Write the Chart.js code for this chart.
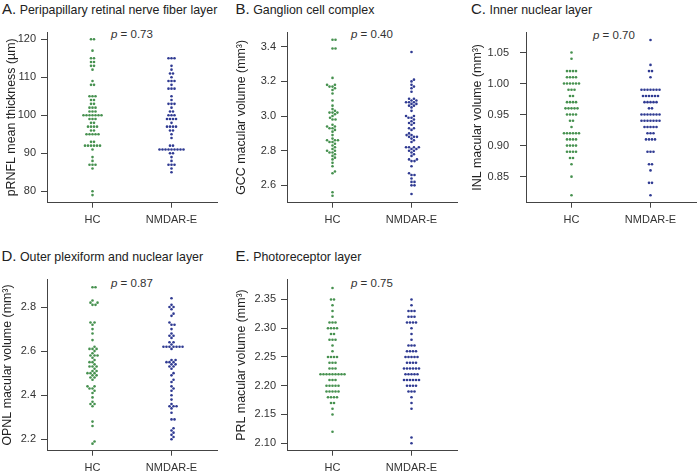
<!DOCTYPE html>
<html>
<head>
<meta charset="utf-8">
<script src="https://cdn.jsdelivr.net/npm/chart.js@4.4.1/dist/chart.umd.min.js"></script>
<style>
  body { margin: 0; background: #fff; }
  #wrap { position: relative; width: 698px; height: 472px; overflow: hidden; font-family: "Liberation Sans", Arial, sans-serif; color: #222; }
  canvas { position: absolute; }
  .ttl { position: absolute; font-size: 12.4px; line-height: 15px; white-space: nowrap; }
  .ttl span { font-size: 15px; }
  .pv { position: absolute; font-size: 11.5px; line-height: 12px; white-space: nowrap; color: #333; }
</style>
</head>
<body>
<div id="wrap"></div>
<script>
// groups on the x axis
const groupLabels = ['HC', 'NMDAR-E'];
const groupPos = [1, 2];

// A. pRNFL (µm)
const rnflHC = [120,120,117,115,115,114,114,113,113,112,109,108,108,105,105,105,104,104,103,103,102,102,102,101,101,101,
  100,100,100,100,100,100,100,99,99,99,98,98,97,97,97,97,96,96,95,95,95,95,95,93,93,92,92,92,92,92,92,91,89,88,87,87,87,86,80,79];
const rnflNM = [115,115,115,113,112,111,111,110,109,109,109,108,107,107,107,105,104,103,103,103,102,101,101,100,100,100,
  99,99,99,99,98,97,97,97,97,96,96,95,94,92,92,91,91,91,91,91,91,91,91,91,90,90,89,88,87,87,87,86,85];
const rnflTicks = ['80', '90', '100', '110', '120'];

// B. GCC (mm3)
const gccHC = [3.44,3.44,3.39,3.39,3.22,3.18,3.18,3.17,3.17,3.16,3.15,3.13,3.09,3.06,3.04,3.03,3.02,3.02,3.02,3.01,3.00,2.99,
  2.98,2.98,2.95,2.94,2.94,2.93,2.93,2.92,2.91,2.89,2.87,2.86,2.86,2.86,2.85,2.85,2.84,2.83,2.82,2.81,2.80,2.80,2.79,2.79,
  2.78,2.77,2.76,2.75,2.73,2.71,2.68,2.67,2.56,2.54];
const gccNM = [3.37,3.21,3.20,3.18,3.17,3.16,3.14,3.10,3.10,3.09,3.09,3.08,3.08,3.08,3.07,3.07,3.06,3.06,3.05,3.03,3.00,3.00,
  2.99,2.99,2.98,2.97,2.96,2.96,2.95,2.93,2.93,2.92,2.90,2.89,2.89,2.88,2.88,2.88,2.87,2.86,2.85,2.82,2.82,2.82,2.82,2.81,
  2.81,2.80,2.80,2.79,2.78,2.77,2.75,2.75,2.74,2.74,2.71,2.67,2.66,2.66,2.64,2.62,2.62,2.60,2.60,2.55];
const gccTicks = ['2.6', '2.8', '3.0', '3.2', '3.4'];

// C. INL (mm3)
const inlHC = [1.05,1.04,1.02,1.02,1.02,1.02,1.01,1.01,1.01,1.01,1.00,1.00,1.00,1.00,1.00,1.00,0.99,0.99,0.99,0.98,0.98,
  0.97,0.97,0.97,0.97,0.96,0.96,0.96,0.96,0.96,0.95,0.95,0.95,0.95,0.94,0.94,0.93,0.92,0.92,0.92,0.92,0.92,0.92,
  0.91,0.91,0.91,0.91,0.90,0.90,0.90,0.90,0.89,0.89,0.89,0.89,0.88,0.88,0.87,0.85,0.82];
const inlNM = [1.07,1.03,1.02,1.02,1.01,0.99,0.99,0.99,0.99,0.99,0.99,0.99,0.98,0.98,0.98,0.98,0.98,0.98,0.97,0.97,0.97,0.97,0.97,
  0.96,0.96,0.95,0.95,0.95,0.95,0.95,0.95,0.95,0.94,0.94,0.94,0.94,0.94,0.94,0.94,0.93,0.93,0.93,0.93,0.93,0.92,0.92,0.92,
  0.91,0.91,0.91,0.91,0.89,0.89,0.89,0.87,0.87,0.86,0.84,0.84,0.82];
const inlTicks = ['0.85', '0.90', '0.95', '1.00', '1.05'];

// D. OPNL (mm3)
const opnlHC = [2.89,2.89,2.83,2.82,2.82,2.81,2.81,2.73,2.73,2.72,2.70,2.68,2.65,2.62,2.61,2.61,2.61,2.60,2.59,2.58,2.58,2.58,
  2.57,2.56,2.55,2.55,2.54,2.53,2.53,2.53,2.52,2.51,2.51,2.50,2.50,2.50,2.49,2.49,2.48,2.48,2.47,2.44,2.44,2.43,2.43,2.42,
  2.41,2.39,2.37,2.36,2.36,2.35,2.28,2.26,2.19,2.18];
const opnlNM = [2.84,2.81,2.80,2.80,2.79,2.77,2.76,2.73,2.72,2.72,2.70,2.68,2.67,2.67,2.66,2.64,2.64,2.63,2.62,2.62,2.62,2.62,
  2.62,2.62,2.62,2.61,2.56,2.56,2.55,2.55,2.55,2.54,2.54,2.53,2.53,2.52,2.50,2.49,2.47,2.46,2.44,2.43,2.42,2.40,2.38,2.36,
  2.35,2.35,2.35,2.34,2.32,2.29,2.29,2.25,2.24,2.23,2.22,2.21,2.20];
const opnlTicks = ['2.2', '2.4', '2.6', '2.8'];

// E. PRL (mm3)
const prlHC = [2.37,2.35,2.35,2.34,2.33,2.32,2.31,2.31,2.31,2.30,2.30,2.30,2.30,2.29,2.29,2.28,2.28,2.28,2.27,2.26,
  2.25,2.25,2.25,2.25,2.24,2.24,2.24,2.23,2.23,2.23,2.22,2.22,2.22,2.22,2.22,2.22,2.22,2.22,2.22,2.21,2.21,2.21,
  2.20,2.20,2.20,2.20,2.20,2.19,2.19,2.19,2.19,2.19,2.18,2.18,2.18,2.18,2.17,2.17,2.16,2.15,2.12];
const prlNM = [2.35,2.34,2.33,2.33,2.33,2.32,2.32,2.32,2.31,2.31,2.31,2.31,2.30,2.29,2.28,2.27,2.27,2.27,2.26,2.26,2.26,2.26,
  2.25,2.25,2.25,2.25,2.25,2.24,2.24,2.24,2.24,2.23,2.23,2.23,2.23,2.23,2.23,2.22,2.22,2.22,2.22,2.22,
  2.21,2.21,2.21,2.21,2.21,2.21,2.20,2.20,2.20,2.20,2.19,2.19,2.19,2.18,2.17,2.16,2.11,2.10];
const prlTicks = ['2.10', '2.15', '2.20', '2.25', '2.30', '2.35'];

const pValues = ['0.73', '0.40', '0.70', '0.87', '0.75'];

const colors = ['#46914f', '#2f3a92'];
const axisColor = '#444';

const panels = [
  { letter: 'A', name: 'Peripapillary retinal nerve fiber layer', yTitle: 'pRNFL mean thickness (µm)',
    hc: rnflHC, nm: rnflNM, ticks: rnflTicks, min: 77.0, max: 121.9, mode: 'rows',
    left: 0, top: 0, w: 230, h: 240, axisW: 47, chartTop: 32, chartBottom: 202.7, tickPad: 5, titlePad: 4.5,
    tx: 2, ty: 1.3, px: 111, py: 28.3 },
  { letter: 'B', name: 'Ganglion cell complex', yTitle: 'GCC macular volume (mm³)',
    hc: gccHC, nm: gccNM, ticks: gccTicks, min: 2.50, max: 3.485, mode: 'swarm',
    left: 230, top: 0, w: 230, h: 240, axisW: 57, chartTop: 32, chartBottom: 202.7, tickPad: 5, titlePad: 4.5,
    tx: 235.5, ty: 1.3, px: 351, py: 28.3 },
  { letter: 'C', name: 'Inner nuclear layer', yTitle: 'INL macular volume (mm³)',
    hc: inlHC, nm: inlNM, ticks: inlTicks, min: 0.808, max: 1.083, mode: 'rows',
    left: 460, top: 0, w: 238, h: 240, axisW: 66, chartTop: 32, chartBottom: 202.7, tickPad: 11, titlePad: 10,
    tx: 471, ty: 1.3, px: 593, py: 29 },
  { letter: 'D', name: 'Outer plexiform and nuclear layer', yTitle: 'OPNL macular volume (mm³)',
    hc: opnlHC, nm: opnlNM, ticks: opnlTicks, min: 2.148, max: 2.926, mode: 'swarm',
    left: 0, top: 240, w: 230, h: 232, axisW: 47, chartTop: 279.3, chartBottom: 450.7, tickPad: 5, titlePad: 0,
    tx: 1.5, ty: 248, px: 111, py: 276.7 },
  { letter: 'E', name: 'Photoreceptor layer', yTitle: 'PRL macular volume (mm³)',
    hc: prlHC, nm: prlNM, ticks: prlTicks, min: 2.087, max: 2.385, mode: 'rows',
    left: 230, top: 240, w: 230, h: 232, axisW: 57, chartTop: 279.3, chartBottom: 450.7, tickPad: 5, titlePad: 4.5,
    tx: 235.5, ty: 248, px: 351, py: 276.7 }
];

const wrap = document.getElementById('wrap');
const dotGap = 3;   // px between neighbouring dots
const xMin = 0.424, xMax = 2.576;  // keeps the groups at the original spots

// spread the dots sideways, in pixels, then back into x values
function spread(chart, mode) {
  const xs = chart.scales.x, ys = chart.scales.y;
  chart.data.datasets.forEach((ds, i) => {
    const cx = xs.getPixelForValue(groupPos[i]);
    const pts = ds.data.map(p => ({ p, py: ys.getPixelForValue(p.y), dx: 0 }));
    if (mode === 'rows') {
      const rows = {};
      pts.forEach(o => { (rows[o.p.y.toFixed(4)] = rows[o.p.y.toFixed(4)] || []).push(o); });
      Object.values(rows).forEach(r => r.forEach((o, k) => { o.dx = (k - (r.length - 1) / 2) * dotGap; }));
    } else {
      const placed = [];
      pts.slice().sort((a, b) => b.py - a.py).forEach(o => {
        const near = placed.filter(q => Math.abs(q.py - o.py) < dotGap);
        const cands = [0];
        near.forEach(q => {
          const h = Math.sqrt(dotGap * dotGap - (q.py - o.py) ** 2);
          cands.push(q.dx + h, q.dx - h);
        });
        cands.sort((a, b) => Math.abs(a) - Math.abs(b));
        o.dx = cands.find(c => near.every(q => Math.hypot(c - q.dx, q.py - o.py) >= dotGap - 1e-6));
        placed.push(o);
      });
    }
    pts.forEach(o => { o.p.x = xs.getValueForPixel(cx + o.dx); });
  });
  chart.update('none');
}

panels.forEach(pn => {
  const t = document.createElement('div');
  t.className = 'ttl';
  t.style.left = pn.tx + 'px';
  t.style.top = pn.ty + 'px';
  t.innerHTML = '<span>' + pn.letter + '.</span> ' + pn.name;
  wrap.appendChild(t);

  const pv = document.createElement('div');
  pv.className = 'pv';
  pv.style.left = pn.px + 'px';
  pv.style.top = pn.py + 'px';
  pv.innerHTML = '<i>p</i> = ' + pValues[panels.indexOf(pn)];
  wrap.appendChild(pv);

  const cv = document.createElement('canvas');
  cv.width = pn.w; cv.height = pn.h;
  cv.style.left = pn.left + 'px';
  cv.style.top = pn.top + 'px';
  wrap.appendChild(cv);

  const xAxisH = pn.h - (pn.chartBottom - pn.top);
  const tickVals = pn.ticks.map(Number);

  const chart = new Chart(cv.getContext('2d'), {
    type: 'scatter',
    data: {
      datasets: [pn.hc, pn.nm].map((vals, i) => ({
        data: vals.map(v => ({ x: groupPos[i], y: v })),
        backgroundColor: colors[i],
        pointRadius: 1.3,
        pointBorderWidth: 0,
        pointHoverRadius: 1.3,
        clip: false
      }))
    },
    options: {
      responsive: false,
      animation: false,
      devicePixelRatio: 1,
      events: [],
      layout: { padding: { left: 0, top: pn.chartTop - pn.top, right: pn.w - pn.axisW - 170, bottom: 0 } },
      plugins: { legend: { display: false }, tooltip: { enabled: false } },
      scales: {
        x: {
          type: 'linear', min: xMin, max: xMax,
          afterBuildTicks: s => { s.ticks = groupPos.map(v => ({ value: v })); },
          afterFit: s => { s.height = xAxisH; },
          grid: { drawOnChartArea: false, drawTicks: true, tickLength: 5, color: axisColor },
          border: { display: true, color: axisColor, width: 1 },
          ticks: {
            padding: 5.5, color: '#333', maxRotation: 0, autoSkip: false,
            font: { family: '"Liberation Sans", Arial, sans-serif', size: 11 },
            callback: (v, i) => groupLabels[i]
          }
        },
        y: {
          type: 'linear', min: pn.min, max: pn.max,
          afterBuildTicks: s => { s.ticks = tickVals.map(v => ({ value: v })); },
          afterFit: s => { s.width = pn.axisW; },
          grid: { drawOnChartArea: false, drawTicks: true, tickLength: 6, color: axisColor },
          border: { display: true, color: axisColor, width: 1 },
          ticks: {
            padding: pn.tickPad, color: '#333', autoSkip: false,
            font: { family: '"Liberation Sans", Arial, sans-serif', size: 11 },
            callback: (v, i) => pn.ticks[i]
          },
          title: {
            display: true, text: pn.yTitle, color: '#222',
            padding: { top: pn.titlePad, bottom: 0 },
            font: { family: '"Liberation Sans", Arial, sans-serif', size: 12.4 }
          }
        }
      }
    }
  });
  spread(chart, pn.mode);
});
</script>
</body>
</html>
